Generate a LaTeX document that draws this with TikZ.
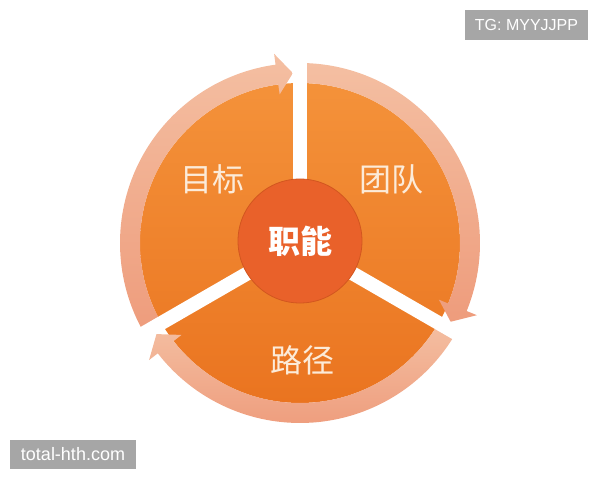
\documentclass[tikz,border=0pt]{standalone}
\usepackage{fontspec}
\usepackage{xcolor}
\usepackage{tikz}
\usetikzlibrary{positioning}
\newfontfamily\cjk{Noto Sans CJK SC}
\newfontfamily\wmfont{Liberation Sans}
\definecolor{cyclight}{HTML}{F4923A}
\definecolor{cycdark}{HTML}{EA7420}
\definecolor{ringlight}{HTML}{F4BFA2}
\definecolor{ringdark}{HTML}{EE9C7C}
\definecolor{hubfill}{HTML}{E9612A}
\definecolor{hubline}{HTML}{D2561F}
\definecolor{labelcream}{HTML}{FCEBD9}
\definecolor{wmgray}{HTML}{A6A6A6}

\begin{document}
\begin{tikzpicture}[
    x=1pt, y=1pt,
    disc/.style={top color=cyclight, bottom color=cycdark},
    ring/.style={top color=ringlight, bottom color=ringdark},
    gap/.style={white, line width=14pt},
    hub/.style={circle, minimum size=124pt, inner sep=0pt, fill=hubfill,
                draw=hubline, line width=0.8pt, text=white,
                font=\cjk\bfseries\fontsize{32}{32}\selectfont},
    lbl/.style={inner sep=0pt, text=labelcream, font=\cjk\fontsize{32}{32}\selectfont},
    mark box/.style={rectangle, fill=wmgray, text=white, inner sep=0pt,
                     font=\wmfont\fontsize{16}{16}\selectfont}
]
\useasboundingbox (0,0) rectangle (600,480);

\begin{scope}[shift={(300,237)}]
% Disc
\path[disc] (0,0) circle[radius=160];

% Arrows round the disc
\foreach \s/\e [evaluate=\e as \b using \e+7.8, evaluate=\e as \t using \e+2.4] in {210/90, 90/-30, -30/-150}
  \path[ring] (\s:160) arc[start angle=\s, end angle=\b, radius=160]
    -- (\b:150) -- (\t:170) -- (\b:191) -- (\b:180)
    arc[start angle=\b, end angle=\s, radius=180] -- cycle;

% Gaps
\foreach \g in {90,-30,210}
  \draw[gap] (0,0) -- (\g:196);

% Labels
\node[hub] (hub) at (0,2) {职能};
\node[lbl] (goal) at (-88,64) {目标};
\node[lbl] (team) at (91,64) {团队};
\node[lbl] (route) at (2,-117) {路径};
\end{scope}

% Marks
\node[mark box, minimum width=123pt, minimum height=30pt] (tg) at (526.5,455) {TG: MYYJJPP};
\node[mark box, minimum width=126pt, minimum height=29pt, font=\wmfont\fontsize{18}{18}\selectfont] (site) at (73,25.5) {total-hth.com};
\end{tikzpicture}
\end{document}
